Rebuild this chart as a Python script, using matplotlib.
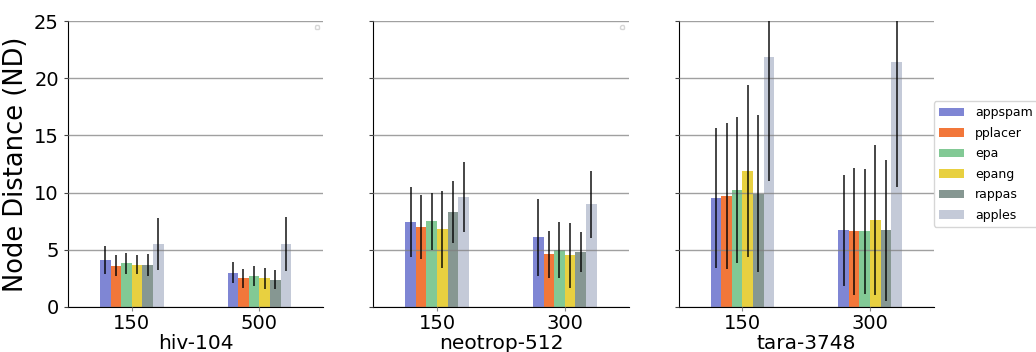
import matplotlib
matplotlib.use("Agg")
import matplotlib.pyplot as plt
import numpy as np

methods = ["appspam", "pplacer", "epa", "epang", "rappas", "apples"]
colors = ["#7f86d4", "#f2773a", "#82c995", "#e8d040", "#869792", "#c4cad8"]

datasets = ["hiv-104", "neotrop-512", "tara-3748"]
lengths = [["150", "500"], ["150", "300"], ["150", "300"]]

# mean node distance, one row per method, one column per read length
hiv_mean = [[4.1, 3.0], [3.6, 2.5], [3.8, 2.7], [3.7, 2.5], [3.7, 2.4], [5.5, 5.5]]
hiv_err = [[1.25, 0.93], [0.93, 0.82], [0.89, 0.85], [0.82, 0.89], [0.95, 0.83], [2.3, 2.35]]

neo_mean = [[7.4, 6.1], [7.0, 4.6], [7.5, 5.0], [6.8, 4.5], [8.3, 4.8], [9.6, 9.0]]
neo_err = [[3.07, 3.35], [2.83, 2.08], [2.5, 2.45], [3.35, 2.88], [2.68, 1.78], [3.07, 2.93]]

tara_mean = [[9.5, 6.7], [9.7, 6.6], [10.2, 6.6], [11.9, 7.6], [9.9, 6.7], [21.9, 21.4]]
tara_err = [[6.12, 4.86], [6.35, 5.53], [6.39, 5.5], [7.52, 6.53], [6.88, 6.17], [10.9, 10.9]]

means = [hiv_mean, neo_mean, tara_mean]
errs = [hiv_err, neo_err, tara_err]

fig, axes = plt.subplots(1, 3, figsize=(10.36, 3.52), dpi=100)
fig.subplots_adjust(left=0.0656, right=0.9015, top=0.94, bottom=0.128, wspace=0.196)

w = 1 / 12
for k, ax in enumerate(axes):
    m = np.array(means[k])
    e = np.array(errs[k])
    x = np.arange(m.shape[1])
    for i, name in enumerate(methods):
        pos = x - 0.25 + w / 2 + i * w
        ax.bar(pos, m[i], w, color=colors[i], label=name, zorder=2)
        ax.errorbar(pos, m[i], yerr=e[i], fmt="none", ecolor="black",
                    elinewidth=1.2, alpha=0.85, zorder=4)
    ax.set_xlim(-0.5, 1.5)
    ax.set_ylim(0, 25)
    ax.set_xticks(x)
    ax.set_xticklabels(lengths[k], fontsize=14)
    ax.set_xlabel(datasets[k], fontsize=14.5, labelpad=1)
    ax.set_yticks([0, 5, 10, 15, 20, 25])
    ax.yaxis.grid(True, color="gray", linewidth=1, alpha=0.75, zorder=3)
    ax.set_axisbelow(False)
    for s in ["top", "right"]:
        ax.spines[s].set_visible(False)
    ax.tick_params(axis="y", labelsize=14, length=3, color="#444444")
    ax.tick_params(axis="x", length=3, color="#888888", pad=2)
    if k > 0:
        ax.tick_params(axis="y", labelleft=False)
    if k < 2:
        # empty legend box, as left by the original script
        leg = ax.legend(handles=[], loc="upper right", fontsize=5, borderpad=0.3,
                        borderaxespad=0.6)
        leg.get_frame().set_edgecolor("#cccccc")

axes[0].set_ylabel("Node Distance (ND)", fontsize=18.5)
axes[2].legend(loc="center left", bbox_to_anchor=(1.0, 0.5), borderaxespad=0,
               fontsize=9, labelspacing=0.6, handletextpad=0.9)

fig.savefig("out.png", dpi=100)
